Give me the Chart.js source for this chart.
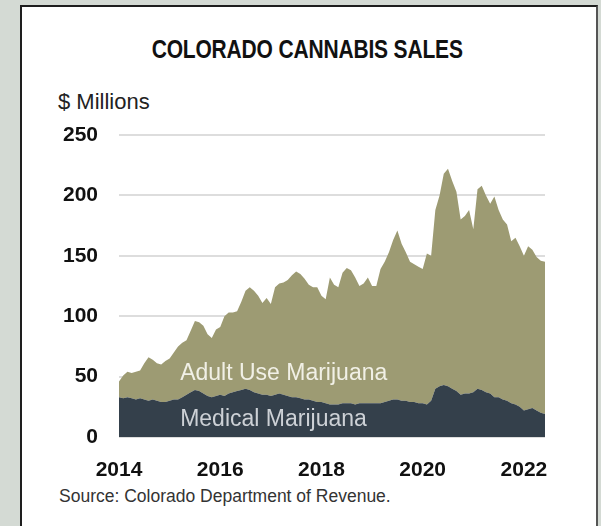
<!DOCTYPE html>
<html>
<head>
<meta charset="utf-8">
<script src="https://cdn.jsdelivr.net/npm/chart.js@4"></script>
<style>
  html, body { margin: 0; padding: 0; }
  body { width: 601px; height: 526px; background: #d4dad4; position: relative; overflow: hidden; font-family: "Liberation Sans", Arial, sans-serif; }
  .panel { position: absolute; left: 20px; top: 5px; width: 574px; height: 540px; background: #fff; border: 2px solid #1e1e1e; border-right-color: #555; }
  .title { position: absolute; left: 0; width: 601px; top: 37px; text-align: center; color: #111; padding-left: 14px; box-sizing: border-box; }
  .title span { display: inline-block; font: bold 25px/25px "Liberation Sans", Arial, sans-serif; transform: scaleX(0.84); letter-spacing: -0.2px; }
  .units { position: absolute; left: 58px; top: 91px; font-size: 22px; line-height: 22px; color: #222; }
  .source { position: absolute; left: 59px; top: 488px; font-size: 17.5px; line-height: 17.5px; color: #333; }
  canvas { position: absolute; left: 0; top: 0; }
</style>
</head>
<body>
<div class="panel"></div>
<div class="title"><span>COLORADO CANNABIS SALES</span></div>
<div class="units">$ Millions</div>
<div class="source">Source: Colorado Department of Revenue.</div>
<canvas id="salesChart" width="601" height="526"></canvas>
<script>
// monthly sales, Jan 2014 - Jun 2022, $ millions
var years = [2014, 2015, 2016, 2017, 2018, 2019, 2020, 2021, 2022];
var yearTicks = ["2014", "2016", "2018", "2020", "2022"];

// top of the stack: medical + adult use
var totalSales = [
  46, 51, 54, 53, 54, 55, 61, 66, 64, 61, 60, 63,
  65, 70, 75, 78, 80, 88, 96, 95, 92, 85, 82, 89,
  91, 100, 103, 103, 104, 112, 121, 124, 121, 117, 111, 115,
  110, 124, 127, 128, 130, 134, 137, 135, 131, 126, 124, 124,
  117, 114, 132, 126, 124, 136, 140, 138, 132, 125, 127, 132,
  125, 125, 139, 145, 153, 163, 171, 160, 153, 145, 143, 141,
  139, 152, 150, 188, 200, 218, 222, 212, 203, 180, 183, 188,
  172, 205, 208, 200, 193, 199, 188, 180, 176, 162, 165, 158,
  150, 158, 155, 149, 146, 145
];

var medicalSales = [
  33, 32, 33, 32, 31, 32, 31, 30, 31, 30, 29, 29,
  30, 31, 31, 33, 35, 37, 39, 38, 36, 34, 33, 34,
  35, 34, 36, 37, 38, 39, 40, 39, 37, 36, 35, 35,
  34, 35, 36, 35, 34, 33, 33, 32, 31, 31, 30, 29,
  29, 28, 27, 27, 27, 28, 28, 28, 27, 28, 28, 28,
  28, 28, 28, 29, 30, 31, 31, 30, 30, 29, 29, 28,
  28, 27, 30, 40, 42, 43, 42, 40, 38, 35, 36, 36,
  37, 40, 39, 37, 36, 33, 33, 31, 30, 28, 27, 25,
  22, 23, 24, 22, 20, 19
];

var labels = [];
years.forEach(function (y) {
  for (var m = 1; m <= 12; m++) {
    if (labels.length < totalSales.length) labels.push(y + "-" + (m < 10 ? "0" + m : m));
  }
});

// series names written inside their areas
var areaLabels = {
  id: "areaLabels",
  afterDatasetsDraw: function (chart) {
    var ctx = chart.ctx;
    var x = chart.scales.x.getPixelForValue(14.5);
    var y = chart.scales.y;
    ctx.save();
    ctx.font = "23px 'Liberation Sans', Arial, sans-serif";
    ctx.textAlign = "left";
    ctx.textBaseline = "middle";
    ctx.fillStyle = "#f1f0e6";
    ctx.fillText("Adult Use Marijuana", x, y.getPixelForValue(52.5));
    ctx.fillStyle = "#cdd1d6";
    ctx.fillText("Medical Marijuana", x, y.getPixelForValue(14));
    ctx.restore();
  }
};

var ctx = document.getElementById("salesChart").getContext("2d");
var salesChart = new Chart(ctx, {
  type: "line",
  data: {
    labels: labels,
    datasets: [
      {
        label: "Medical Marijuana",
        data: medicalSales,
        backgroundColor: "#34404b",
        borderWidth: 0,
        pointRadius: 0,
        fill: "origin",
      },
      {
        label: "Adult Use Marijuana",
        data: totalSales,
        backgroundColor: "#9d9b73",
        borderWidth: 0,
        pointRadius: 0,
        fill: "-1",
      },
    ],
  },
  options: {
    responsive: false,
    animation: false,
    devicePixelRatio: 1,
    layout: { padding: { top: 135, right: 56, bottom: 0, left: 0 } },
    plugins: {
      legend: { display: false },
      tooltip: { enabled: false },
    },
    scales: {
      x: {
        grid: { display: false },
        border: { display: false },
        ticks: {
          autoSkip: false,
          maxRotation: 0,
          padding: 13,
          color: "#111",
          font: { family: "'Liberation Sans', Arial, sans-serif", size: 21, weight: "bold" },
          callback: function (value) {
            var lab = this.getLabelForValue(value);
            var yr = lab.slice(0, 4);
            return lab.slice(5) === "01" && yearTicks.indexOf(yr) >= 0 ? yr : "";
          },
        },
        afterFit: function (scale) { scale.height = 89; },
      },
      y: {
        min: 0,
        max: 250,
        border: { display: false },
        grid: { color: "#dddddd", lineWidth: 2, drawTicks: false },
        ticks: {
          stepSize: 50,
          padding: 21,
          color: "#111",
          font: { family: "'Liberation Sans', Arial, sans-serif", size: 21, weight: "bold" },
        },
        afterFit: function (scale) { scale.width = 119; },
      },
    },
  },
  plugins: [areaLabels],
});
</script>
</body>
</html>
